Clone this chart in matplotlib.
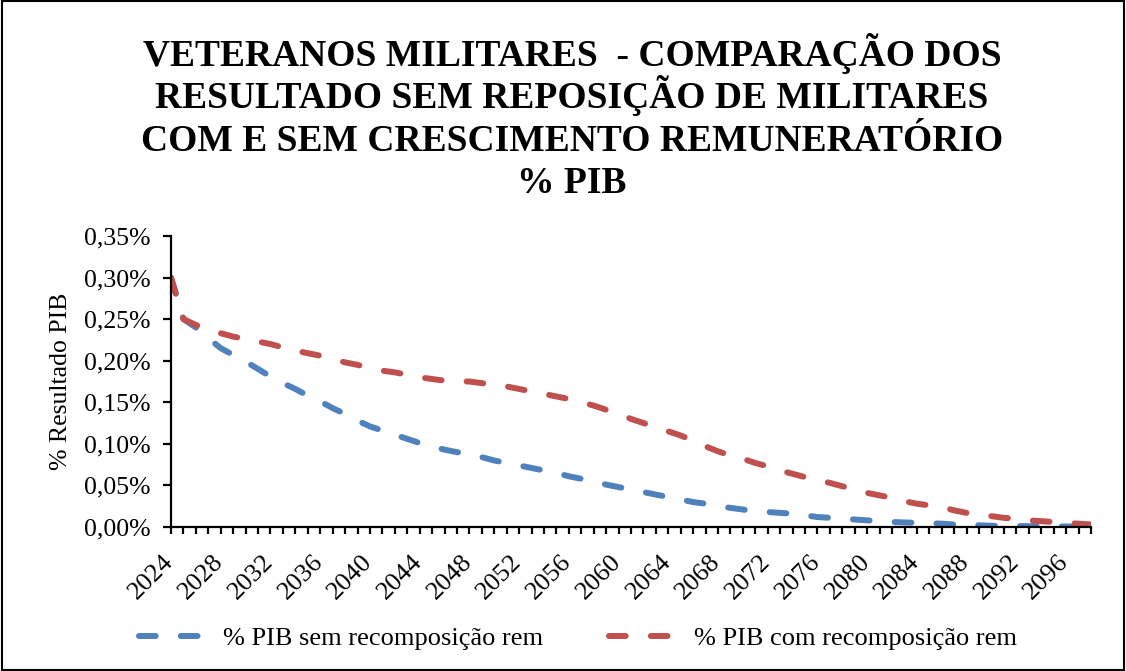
import matplotlib
matplotlib.use("Agg")
import matplotlib.pyplot as plt
import matplotlib.transforms as mtransforms
from matplotlib.patches import Rectangle
from matplotlib.ticker import FuncFormatter
import numpy as np

plt.rcParams['font.family'] = ['Liberation Serif', 'DejaVu Serif']

# Data (% PIB), one value per year 2024..2098
years = list(range(2024, 2099))

pib_sem = [0.300, 0.250, 0.240, 0.227, 0.215, 0.207, 0.199, 0.190, 0.181, 0.173,
           0.166, 0.158, 0.151, 0.143, 0.136, 0.128, 0.121, 0.116, 0.111, 0.106,
           0.101, 0.097, 0.093, 0.090, 0.088, 0.084, 0.080, 0.077, 0.074, 0.071,
           0.068, 0.065, 0.061, 0.058, 0.055, 0.051, 0.048, 0.045, 0.042, 0.039,
           0.036, 0.033, 0.030, 0.028, 0.025, 0.023, 0.021, 0.019, 0.018, 0.017,
           0.016, 0.014, 0.012, 0.011, 0.010, 0.009, 0.008, 0.007, 0.006, 0.0055,
           0.005, 0.0045, 0.004, 0.003, 0.0025, 0.002, 0.0015, 0.0013, 0.0012, 0.001,
           0.001, 0.0008, 0.0006, 0.0004, 0.0002]

pib_com = [0.300, 0.250, 0.243, 0.237, 0.233, 0.229, 0.226, 0.223, 0.220, 0.216,
           0.212, 0.209, 0.206, 0.202, 0.198, 0.195, 0.191, 0.188, 0.186, 0.183,
           0.180, 0.178, 0.176, 0.175, 0.175, 0.173, 0.171, 0.169, 0.166, 0.163,
           0.160, 0.157, 0.154, 0.150, 0.146, 0.141, 0.136, 0.130, 0.125, 0.120,
           0.115, 0.110, 0.104, 0.097, 0.091, 0.086, 0.082, 0.077, 0.073, 0.068,
           0.064, 0.060, 0.057, 0.053, 0.049, 0.045, 0.041, 0.038, 0.035, 0.031,
           0.028, 0.026, 0.024, 0.020, 0.017, 0.015, 0.013, 0.011, 0.010, 0.008,
           0.007, 0.006, 0.005, 0.004, 0.003]

series_labels = ['% PIB sem recomposição rem', '% PIB com recomposição rem']
colors = ['#4F81BD', '#C0504D']

title_lines = ['VETERANOS MILITARES  - COMPARAÇÃO DOS',
               'RESULTADO SEM REPOSIÇÃO DE MILITARES',
               'COM E SEM CRESCIMENTO REMUNERATÓRIO',
               '% PIB']

fig = plt.figure(figsize=(11.26, 6.71), dpi=100)
ax = fig.add_axes([0.1519, 0.2146, 0.8170, 0.4337])

lw = 4.3
for vals, lab, c in zip([pib_sem, pib_com], series_labels, colors):
    ax.plot(years, vals, color=c, lw=lw, label=lab,
            dashes=(2.8, 4.2), dash_capstyle='round', solid_capstyle='round')

ax.set_xlim(years[0], years[-1])
ax.set_ylim(0, 0.35)
ax.set_yticks(np.arange(0, 0.351, 0.05))
ax.yaxis.set_major_formatter(FuncFormatter(lambda v, p: f'{v:.2f}%'.replace('.', ',')))
ax.set_xticks(years)
ax.set_xticklabels([str(y) if (y - 2024) % 4 == 0 else '' for y in years],
                   rotation=45, ha='right')

for s in ['top', 'right']:
    ax.spines[s].set_visible(False)
for s in ['left', 'bottom']:
    ax.spines[s].set_linewidth(1.6)

ax.tick_params(axis='y', length=6, width=1.6, labelsize=18.5, pad=9)
ax.tick_params(axis='x', length=5, width=1.6, labelsize=19, pad=12)
offset = mtransforms.ScaledTranslation(7 / 100, 0, fig.dpi_scale_trans)
for lbl in ax.get_xticklabels():
    lbl.set_transform(lbl.get_transform() + offset)

ax.set_ylabel('% Resultado PIB', fontsize=18.5, labelpad=8)

# title, one line at a time so the spacing stays even
for i, line in enumerate(title_lines):
    fig.text(0.508, 1 - (66 + 42.3 * i) / 671, line, ha='center', va='baseline',
             fontsize=27, fontweight='bold')

fig.legend(loc='center', bbox_to_anchor=(0.513, 0.049), ncol=2, frameon=False,
           fontsize=19, handlelength=2.3, handletextpad=0.9, columnspacing=2.5)

fig.patches.append(Rectangle((0.002, 0.002), 0.996, 0.996, transform=fig.transFigure,
                             fill=False, edgecolor='black', linewidth=1.5))

fig.savefig('out.png', dpi=100)
